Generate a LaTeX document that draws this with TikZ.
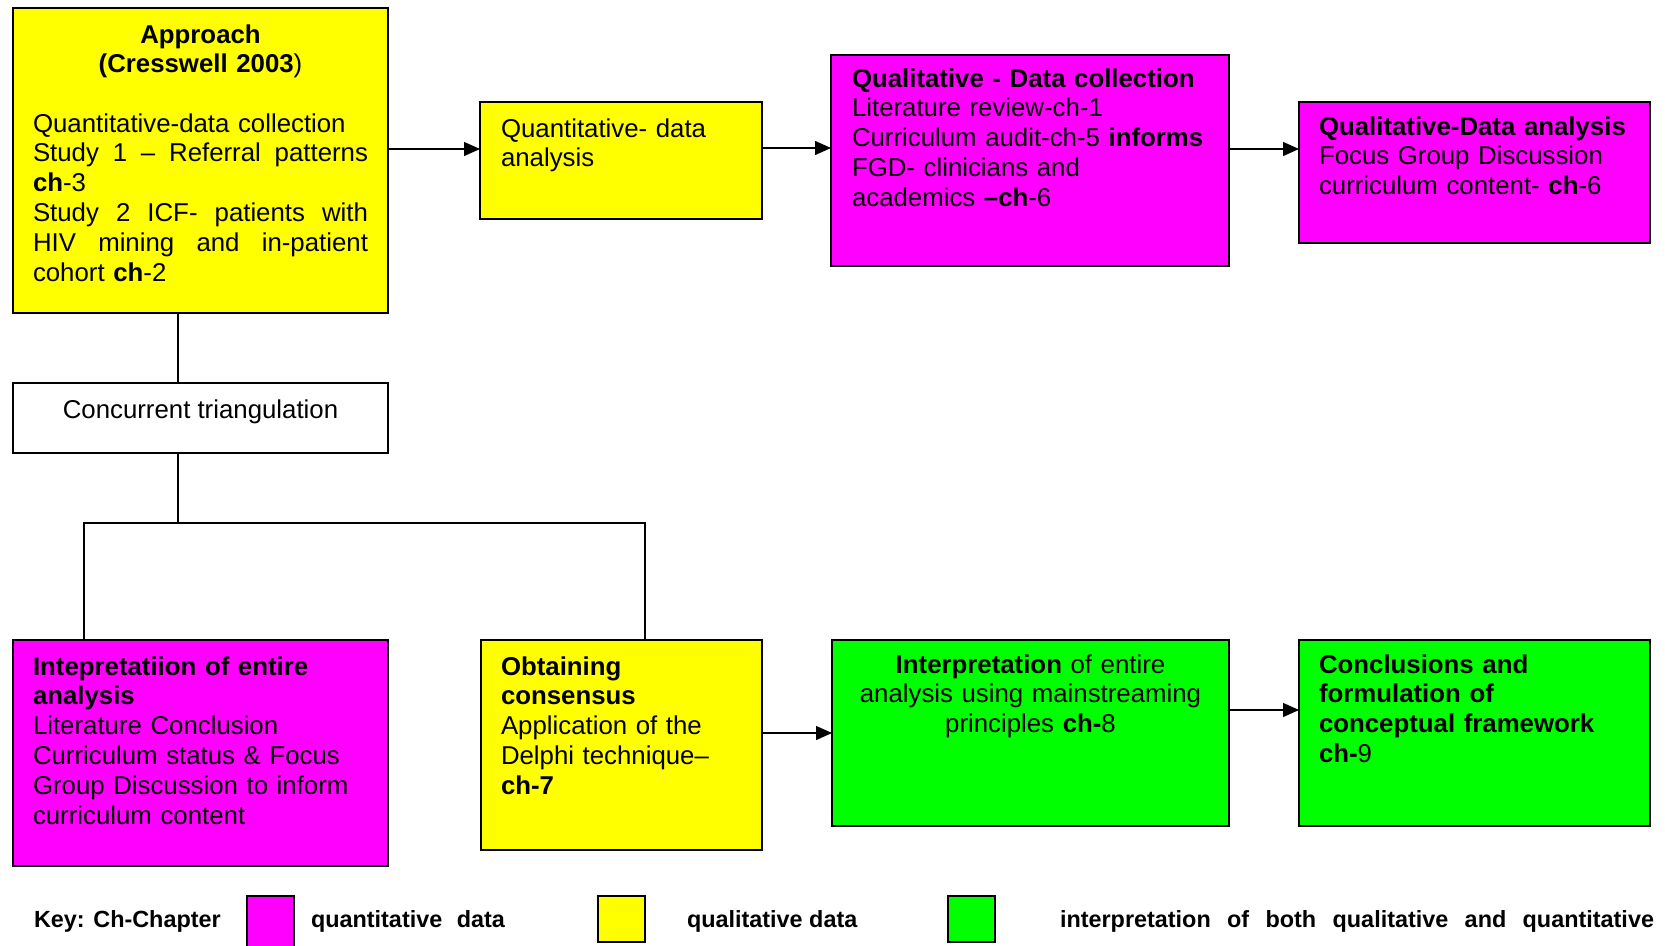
\documentclass[tikz,border=0pt]{standalone}
\usepackage{fontspec}
\setmainfont{Liberation Sans}
\usetikzlibrary{arrows.meta}

\definecolor{qualyellow}{HTML}{FFFF00}
\definecolor{quantmagenta}{HTML}{FF00FF}
\definecolor{bothgreen}{HTML}{00FF00}

\newcommand\diagfont{\fontsize{25.8}{29.9}\selectfont}
\newcommand\keyfont{\fontsize{23.4}{28}\selectfont\bfseries}
% a justified line: the words are spread over the given width
\newcommand\spreadline[2]{\leavevmode\hbox to #1{#2}}

\begin{document}
\begin{tikzpicture}[x=1pt,y=-1pt,
  box/.style={draw=black, line width=1.6pt, inner sep=0pt, outer sep=0pt, anchor=north west},
  swatch/.style={box, line width=1.2pt, minimum width=47pt, minimum height=46pt},
  txt/.style={anchor=base west, inner sep=0pt, outer sep=0pt, align=left, font=\diagfont},
  ctxt/.style={anchor=base, inner sep=0pt, outer sep=0pt, align=center, font=\diagfont},
  keytxt/.style={anchor=base west, inner sep=0pt, outer sep=0pt, font=\keyfont},
  link/.style={line width=1.3pt},
  arr/.style={link, -{Triangle[length=16pt,width=14pt]}},
]
\useasboundingbox (0,0) rectangle (1665,945);

% ---- boxes ----
\node[box, fill=qualyellow, minimum width=375pt, minimum height=305pt] (approach) at (13,8) {};
\node[box, fill=qualyellow, minimum width=282pt, minimum height=117pt] (qa) at (480,102) {};
\node[box, fill=quantmagenta, minimum width=398pt, minimum height=211pt] (qdc) at (831,55) {};
\node[box, fill=quantmagenta, minimum width=351pt, minimum height=141pt] (qda) at (1299,102) {};
\node[box, fill=white, minimum width=375pt, minimum height=70pt] (conc) at (13,383) {};
\node[box, fill=quantmagenta, minimum width=375pt, minimum height=226pt] (interp) at (13,640) {};
\node[box, fill=qualyellow, minimum width=281pt, minimum height=210pt] (obt) at (481,640) {};
\node[box, fill=bothgreen, minimum width=397pt, minimum height=186pt] (green1) at (832,640) {};
\node[box, fill=bothgreen, minimum width=351pt, minimum height=186pt] (green2) at (1299,640) {};

% ---- box texts ----
\node[ctxt, text width=375pt, font=\diagfont\bfseries] (approachhead) at (200.5,43)
  {Approach\\(Cresswell 2003\textnormal{)}};
\node[txt, text width=335pt] (approachbody) at (33,132)
  {Quantitative-data collection\\
   \spreadline{335pt}{Study\hfill 1\hfill –\hfill Referral\hfill patterns}\\
   \textbf{ch}-3\\
   \spreadline{335pt}{Study\hfill 2\hfill ICF-\hfill patients\hfill with}\\
   \spreadline{335pt}{HIV\hfill mining\hfill and\hfill in-patient}\\
   cohort \textbf{ch}-2};
\node[txt, text width=250pt] (qatxt) at (501,137)
  {Quantitative- data\\analysis};
\node[txt, text width=370pt] (qdctxt) at (852,87)
  {\textbf{Qualitative - Data collection}\\
   Literature review-ch-1\\
   Curriculum audit-ch-5 \textbf{informs}\\
   FGD- clinicians and\\
   academics \textbf{–ch}-6};
\node[txt, text width=325pt] (qdatxt) at (1319,135)
  {\textbf{Qualitative-Data analysis}\\
   Focus Group Discussion\\
   curriculum content- \textbf{ch}-6};
\node[ctxt] (conctxt) at (200.5,418) {Concurrent triangulation};
\node[txt, text width=350pt] (interptxt) at (33,675)
  {\textbf{Intepretatiion of entire}\\
   \textbf{analysis}\\
   Literature Conclusion\\
   Curriculum status \& Focus\\
   Group Discussion to inform\\
   curriculum content};
\node[txt, text width=255pt] (obttxt) at (501,675)
  {\textbf{Obtaining}\\
   \textbf{consensus}\\
   Application of the\\
   Delphi technique–\\
   \textbf{ch-7}};
\node[ctxt, text width=390pt] (green1txt) at (1030.5,673)
  {\textbf{Interpretation} of entire\\
   analysis using mainstreaming\\
   principles \textbf{ch-}8};
\node[txt, text width=325pt] (green2txt) at (1319,673)
  {\textbf{Conclusions and}\\
   \textbf{formulation of}\\
   \textbf{conceptual framework}\\
   \textbf{ch-}9};

% ---- connectors ----
\coordinate (rowtop) at (0,149);
\coordinate (rowtopb) at (0,148);
\coordinate (rowlow) at (0,733);
\coordinate (rowlowb) at (0,710);
\coordinate (colmid) at (178,0);
\coordinate (colleft) at (84,0);
\coordinate (colright) at (645,0);
\coordinate (split) at (178,523);

\draw[arr] (approach.east |- rowtop) -- (qa.west |- rowtop);
\draw[arr] (qa.east |- rowtopb) -- (qdc.west |- rowtopb);
\draw[arr] (qdc.east |- rowtop) -- (qda.west |- rowtop);
\draw[link] (approach.south -| colmid) -- (conc.north -| colmid);
\draw[link] (conc.south -| colmid) -- (split);
\draw[link] (interp.north -| colleft) |- (split) -| (obt.north -| colright);
\draw[arr] (obt.east |- rowlow) -- (green1.west |- rowlow);
\draw[arr] (green1.east |- rowlowb) -- (green2.west |- rowlowb);

% ---- key ----
\node[keytxt] (keyhead) at (34,927) {Key: Ch-Chapter};
\node[swatch, fill=quantmagenta, minimum height=60pt] (keyquant) at (247,896) {};
\node[keytxt] (keyquanttxt) at (311,927) {\makebox[194pt][s]{quantitative data}};
\node[swatch, fill=qualyellow] (keyqual) at (598,896) {};
\node[keytxt] (keyqualtxt) at (687,927) {qualitative data};
\node[swatch, fill=bothgreen] (keyboth) at (948,896) {};
\node[keytxt] (keybothtxt) at (1060,927)
  {\makebox[594pt][s]{interpretation of both qualitative and quantitative}};
\end{tikzpicture}
\end{document}
